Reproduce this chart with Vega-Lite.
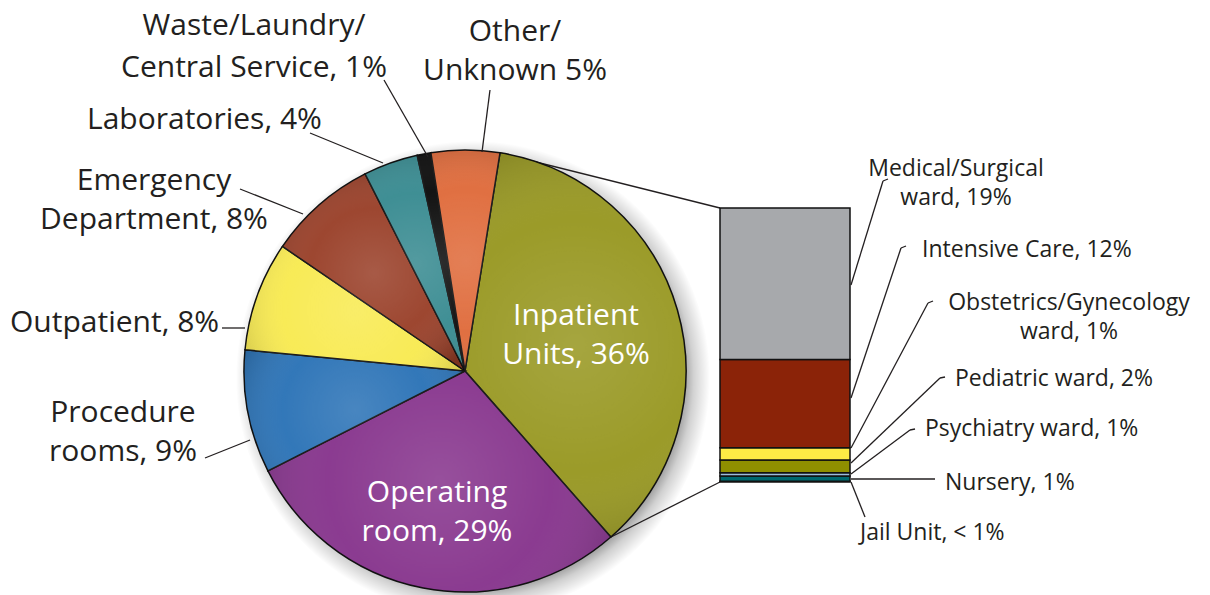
{
  "$schema": "https://vega.github.io/schema/vega-lite/v6.json",
  "width": 1210,
  "height": 595,
  "padding": 0,
  "autosize": {"type": "none"},
  "background": "white",
  "config": {"view": {"stroke": null}, "text": {"font": "Open Sans", "fill": "#231f20"}},
  "datasets": {
    "pie": [
      {"slice": "Inpatient Units", "pct": 36, "rank": 1, "label": "Inpatient\nUnits, 36%"},
      {"slice": "Operating room", "pct": 29, "rank": 2, "label": "Operating\nroom, 29%"},
      {"slice": "Procedure rooms", "pct": 9, "rank": 3, "label": "Procedure\nrooms, 9%"},
      {"slice": "Outpatient", "pct": 8, "rank": 4, "label": "Outpatient, 8%"},
      {"slice": "Emergency Department", "pct": 8, "rank": 5, "label": "Emergency\nDepartment, 8%"},
      {"slice": "Laboratories", "pct": 4, "rank": 6, "label": "Laboratories, 4%"},
      {"slice": "Waste/Laundry/Central Service", "pct": 1, "rank": 7, "label": "Waste/Laundry/\nCentral Service, 1%"},
      {"slice": "Other/Unknown", "pct": 5, "rank": 8, "label": "Other/\nUnknown 5%"}
    ],
    "bar": [
      {"unit": "Jail Unit", "pct": 0.1, "rank": 1, "label": "Jail Unit, < 1%"},
      {"unit": "Nursery", "pct": 0.7, "rank": 2, "label": "Nursery, 1%"},
      {"unit": "Psychiatry ward", "pct": 0.4, "rank": 3, "label": "Psychiatry ward, 1%"},
      {"unit": "Pediatric ward", "pct": 1.7, "rank": 4, "label": "Pediatric ward, 2%"},
      {"unit": "Obstetrics/Gynecology ward", "pct": 1.6, "rank": 5, "label": "Obstetrics/Gynecology\nward, 1%"},
      {"unit": "Intensive Care", "pct": 11.6, "rank": 6, "label": "Intensive Care, 12%"},
      {"unit": "Medical/Surgical ward", "pct": 19.9, "rank": 7, "label": "Medical/Surgical\nward, 19%"}
    ]
  },
  "resolve": {"scale": {"color": "independent", "y": "independent"}},
  "layer": [
    {
      "data": {"name": "pie"},
      "transform": [{"aggregate": [{"op": "sum", "field": "pct", "as": "total"}]}],
      "mark": {"type": "arc", "x": 473, "y": 378, "outerRadius": 237,
        "fill": {"gradient": "radial", "x1": 0.5, "y1": 0.5, "r1": 0, "x2": 0.5, "y2": 0.5, "r2": 0.5,
          "stops": [{"offset": 0.86, "color": "rgba(0,0,0,0.5)"}, {"offset": 0.93, "color": "rgba(0,0,0,0.18)"}, {"offset": 1, "color": "rgba(0,0,0,0)"}]}},
      "encoding": {}
    },
    {
      "data": {"name": "pie"},
      "transform": [{"filter": "datum.slice === 'Inpatient Units'"}],
      "layer": [
        {"mark": {"type": "rule", "color": "#231f20", "strokeWidth": 1.3},
         "encoding": {"x": {"value": 500}, "y": {"value": 153}, "x2": {"value": 720}, "y2": {"value": 208}}},
        {"mark": {"type": "rule", "color": "#231f20", "strokeWidth": 1.3},
         "encoding": {"x": {"value": 611}, "y": {"value": 537}, "x2": {"value": 720}, "y2": {"value": 482}}}
      ]
    },
    {
      "data": {"name": "pie"},
      "mark": {"type": "arc", "x": 465, "y": 371, "outerRadius": 221, "stroke": "#111111", "strokeWidth": 1.5},
      "encoding": {
        "theta": {"field": "pct", "type": "quantitative", "stack": true, "scale": {"range": [0.159, 6.4422]}},
        "order": {"field": "rank", "type": "quantitative"},
        "color": {"field": "slice", "type": "nominal", "legend": null,
          "scale": {"domain": ["Inpatient Units", "Operating room", "Procedure rooms", "Outpatient", "Emergency Department", "Laboratories", "Waste/Laundry/Central Service", "Other/Unknown"],
                    "range": ["#979720", "#86338c", "#2a72b6", "#f8ea50", "#993f28", "#378a90", "#0a0a0a", "#df6a3a"]}}
      }
    },
    {
      "data": {"name": "pie"},
      "mark": {"type": "arc", "x": 465, "y": 371, "outerRadius": 220, "strokeWidth": 0,
        "fill": {"gradient": "radial", "x1": 0.5, "y1": 0.5, "r1": 0, "x2": 0.5, "y2": 0.5, "r2": 0.6,
          "stops": [{"offset": 0, "color": "rgba(255,255,255,0.14)"}, {"offset": 0.55, "color": "rgba(255,255,255,0.04)"}, {"offset": 1, "color": "rgba(0,0,0,0.2)"}]}},
      "encoding": {
        "theta": {"field": "pct", "type": "quantitative", "stack": true, "scale": {"range": [0.159, 6.4422]}},
        "order": {"field": "rank", "type": "quantitative"}
      }
    },
    {
      "data": {"name": "bar"},
      "transform": [{"stack": "pct", "groupby": [], "sort": [{"field": "rank", "order": "ascending"}], "as": ["v0", "v1"]}],
      "mark": {"type": "rect", "stroke": "#111111", "strokeWidth": 1.5},
      "encoding": {
        "x": {"value": 720},
        "x2": {"value": 850},
        "y": {"field": "v0", "type": "quantitative", "axis": null, "scale": {"domain": [0, 36], "range": [482, 208]}},
        "y2": {"field": "v1"},
        "color": {"field": "unit", "type": "nominal", "legend": null,
          "scale": {"domain": ["Jail Unit", "Nursery", "Psychiatry ward", "Pediatric ward", "Obstetrics/Gynecology ward", "Intensive Care", "Medical/Surgical ward"],
                    "range": ["#1e4e60", "#00686e", "#9dbcdc", "#8f8f00", "#fdeb45", "#8b2308", "#a7a9ac"]}}
      }
    },
    {
      "data": {"name": "pie"},
      "transform": [{"filter": "datum.slice === 'Waste/Laundry/Central Service'"}],
      "layer": [
        {"mark": {"type": "text", "align": "center", "baseline": "alphabetic", "lineBreak": "\n", "fontSize": 30, "lineHeight": 42},
         "encoding": {"text": {"field": "label"}, "x": {"value": 254}, "y": {"value": 35}}},
        {"mark": {"type": "rule", "color": "#231f20", "strokeWidth": 1.3},
         "encoding": {"x": {"value": 384}, "y": {"value": 80}, "x2": {"value": 428}, "y2": {"value": 157}}}
      ]
    },
    {
      "data": {"name": "pie"},
      "transform": [{"filter": "datum.slice === 'Other/Unknown'"}],
      "layer": [
        {"mark": {"type": "text", "align": "center", "baseline": "alphabetic", "lineBreak": "\n", "fontSize": 30, "lineHeight": 39},
         "encoding": {"text": {"field": "label"}, "x": {"value": 515}, "y": {"value": 41}}},
        {"mark": {"type": "rule", "color": "#231f20", "strokeWidth": 1.3},
         "encoding": {"x": {"value": 490}, "y": {"value": 90}, "x2": {"value": 482}, "y2": {"value": 152}}}
      ]
    },
    {
      "data": {"name": "pie"},
      "transform": [{"filter": "datum.slice === 'Laboratories'"}],
      "layer": [
        {"mark": {"type": "text", "align": "left", "baseline": "alphabetic", "fontSize": 30},
         "encoding": {"text": {"field": "label"}, "x": {"value": 87}, "y": {"value": 129}}},
        {"mark": {"type": "rule", "color": "#231f20", "strokeWidth": 1.3},
         "encoding": {"x": {"value": 310}, "y": {"value": 133}, "x2": {"value": 383}, "y2": {"value": 163}}}
      ]
    },
    {
      "data": {"name": "pie"},
      "transform": [{"filter": "datum.slice === 'Emergency Department'"}],
      "layer": [
        {"mark": {"type": "text", "align": "center", "baseline": "alphabetic", "lineBreak": "\n", "fontSize": 30, "lineHeight": 39},
         "encoding": {"text": {"field": "label"}, "x": {"value": 154}, "y": {"value": 190}}},
        {"mark": {"type": "rule", "color": "#231f20", "strokeWidth": 1.3},
         "encoding": {"x": {"value": 240}, "y": {"value": 189}, "x2": {"value": 303}, "y2": {"value": 214}}}
      ]
    },
    {
      "data": {"name": "pie"},
      "transform": [{"filter": "datum.slice === 'Outpatient'"}],
      "layer": [
        {"mark": {"type": "text", "align": "left", "baseline": "alphabetic", "fontSize": 30},
         "encoding": {"text": {"field": "label"}, "x": {"value": 10}, "y": {"value": 332}}},
        {"mark": {"type": "rule", "color": "#231f20", "strokeWidth": 1.3},
         "encoding": {"x": {"value": 222}, "y": {"value": 328}, "x2": {"value": 245}, "y2": {"value": 328}}}
      ]
    },
    {
      "data": {"name": "pie"},
      "transform": [{"filter": "datum.slice === 'Procedure rooms'"}],
      "layer": [
        {"mark": {"type": "text", "align": "center", "baseline": "alphabetic", "lineBreak": "\n", "fontSize": 30, "lineHeight": 39},
         "encoding": {"text": {"field": "label"}, "x": {"value": 123}, "y": {"value": 422}}},
        {"mark": {"type": "rule", "color": "#231f20", "strokeWidth": 1.3},
         "encoding": {"x": {"value": 205}, "y": {"value": 458}, "x2": {"value": 250}, "y2": {"value": 440}}}
      ]
    },
    {
      "data": {"name": "pie"},
      "transform": [{"filter": "datum.slice === 'Inpatient Units'"}],
      "mark": {"type": "text", "align": "center", "baseline": "alphabetic", "lineBreak": "\n", "fontSize": 30, "lineHeight": 39, "fill": "white"},
      "encoding": {"text": {"field": "label"}, "x": {"value": 576}, "y": {"value": 325}}
    },
    {
      "data": {"name": "pie"},
      "transform": [{"filter": "datum.slice === 'Operating room'"}],
      "mark": {"type": "text", "align": "center", "baseline": "alphabetic", "lineBreak": "\n", "fontSize": 30, "lineHeight": 39, "fill": "white"},
      "encoding": {"text": {"field": "label"}, "x": {"value": 437}, "y": {"value": 502}}
    },
    {
      "data": {"name": "bar"},
      "transform": [{"filter": "datum.unit === 'Medical/Surgical ward'"}],
      "layer": [
        {"mark": {"type": "text", "align": "center", "baseline": "alphabetic", "lineBreak": "\n", "fontSize": 23, "lineHeight": 29},
         "encoding": {"text": {"field": "label"}, "x": {"value": 956}, "y": {"value": 176}}},
        {"mark": {"type": "rule", "color": "#231f20", "strokeWidth": 1.3},
         "encoding": {"x": {"value": 851}, "y": {"value": 285}, "x2": {"value": 883}, "y2": {"value": 181}}},
        {"mark": {"type": "rule", "color": "#231f20", "strokeWidth": 1.3},
         "encoding": {"x": {"value": 883}, "y": {"value": 181}, "x2": {"value": 888}, "y2": {"value": 179}}}
      ]
    },
    {
      "data": {"name": "bar"},
      "transform": [{"filter": "datum.unit === 'Intensive Care'"}],
      "layer": [
        {"mark": {"type": "text", "align": "left", "baseline": "alphabetic", "fontSize": 23},
         "encoding": {"text": {"field": "label"}, "x": {"value": 922}, "y": {"value": 257}}},
        {"mark": {"type": "rule", "color": "#231f20", "strokeWidth": 1.3},
         "encoding": {"x": {"value": 851}, "y": {"value": 398}, "x2": {"value": 901}, "y2": {"value": 248}}},
        {"mark": {"type": "rule", "color": "#231f20", "strokeWidth": 1.3},
         "encoding": {"x": {"value": 901}, "y": {"value": 248}, "x2": {"value": 906}, "y2": {"value": 246}}}
      ]
    },
    {
      "data": {"name": "bar"},
      "transform": [{"filter": "datum.unit === 'Obstetrics/Gynecology ward'"}],
      "layer": [
        {"mark": {"type": "text", "align": "center", "baseline": "alphabetic", "lineBreak": "\n", "fontSize": 23, "lineHeight": 29},
         "encoding": {"text": {"field": "label"}, "x": {"value": 1069}, "y": {"value": 310}}},
        {"mark": {"type": "rule", "color": "#231f20", "strokeWidth": 1.3},
         "encoding": {"x": {"value": 851}, "y": {"value": 448}, "x2": {"value": 928}, "y2": {"value": 303}}},
        {"mark": {"type": "rule", "color": "#231f20", "strokeWidth": 1.3},
         "encoding": {"x": {"value": 928}, "y": {"value": 303}, "x2": {"value": 933}, "y2": {"value": 301}}}
      ]
    },
    {
      "data": {"name": "bar"},
      "transform": [{"filter": "datum.unit === 'Pediatric ward'"}],
      "layer": [
        {"mark": {"type": "text", "align": "left", "baseline": "alphabetic", "fontSize": 23},
         "encoding": {"text": {"field": "label"}, "x": {"value": 955}, "y": {"value": 386}}},
        {"mark": {"type": "rule", "color": "#231f20", "strokeWidth": 1.3},
         "encoding": {"x": {"value": 851}, "y": {"value": 463}, "x2": {"value": 940}, "y2": {"value": 378}}},
        {"mark": {"type": "rule", "color": "#231f20", "strokeWidth": 1.3},
         "encoding": {"x": {"value": 940}, "y": {"value": 378}, "x2": {"value": 945}, "y2": {"value": 377}}}
      ]
    },
    {
      "data": {"name": "bar"},
      "transform": [{"filter": "datum.unit === 'Psychiatry ward'"}],
      "layer": [
        {"mark": {"type": "text", "align": "left", "baseline": "alphabetic", "fontSize": 23},
         "encoding": {"text": {"field": "label"}, "x": {"value": 925}, "y": {"value": 436}}},
        {"mark": {"type": "rule", "color": "#231f20", "strokeWidth": 1.3},
         "encoding": {"x": {"value": 851}, "y": {"value": 474}, "x2": {"value": 910}, "y2": {"value": 430}}},
        {"mark": {"type": "rule", "color": "#231f20", "strokeWidth": 1.3},
         "encoding": {"x": {"value": 910}, "y": {"value": 430}, "x2": {"value": 915}, "y2": {"value": 429}}}
      ]
    },
    {
      "data": {"name": "bar"},
      "transform": [{"filter": "datum.unit === 'Nursery'"}],
      "layer": [
        {"mark": {"type": "text", "align": "left", "baseline": "alphabetic", "fontSize": 23},
         "encoding": {"text": {"field": "label"}, "x": {"value": 945}, "y": {"value": 490}}},
        {"mark": {"type": "rule", "color": "#231f20", "strokeWidth": 1.6},
         "encoding": {"x": {"value": 851}, "y": {"value": 479}, "x2": {"value": 935}, "y2": {"value": 479}}}
      ]
    },
    {
      "data": {"name": "bar"},
      "transform": [{"filter": "datum.unit === 'Jail Unit'"}],
      "layer": [
        {"mark": {"type": "text", "align": "left", "baseline": "alphabetic", "fontSize": 23},
         "encoding": {"text": {"field": "label"}, "x": {"value": 860}, "y": {"value": 540}}},
        {"mark": {"type": "rule", "color": "#231f20", "strokeWidth": 1.3},
         "encoding": {"x": {"value": 851}, "y": {"value": 482}, "x2": {"value": 865}, "y2": {"value": 517}}}
      ]
    }
  ]
}
